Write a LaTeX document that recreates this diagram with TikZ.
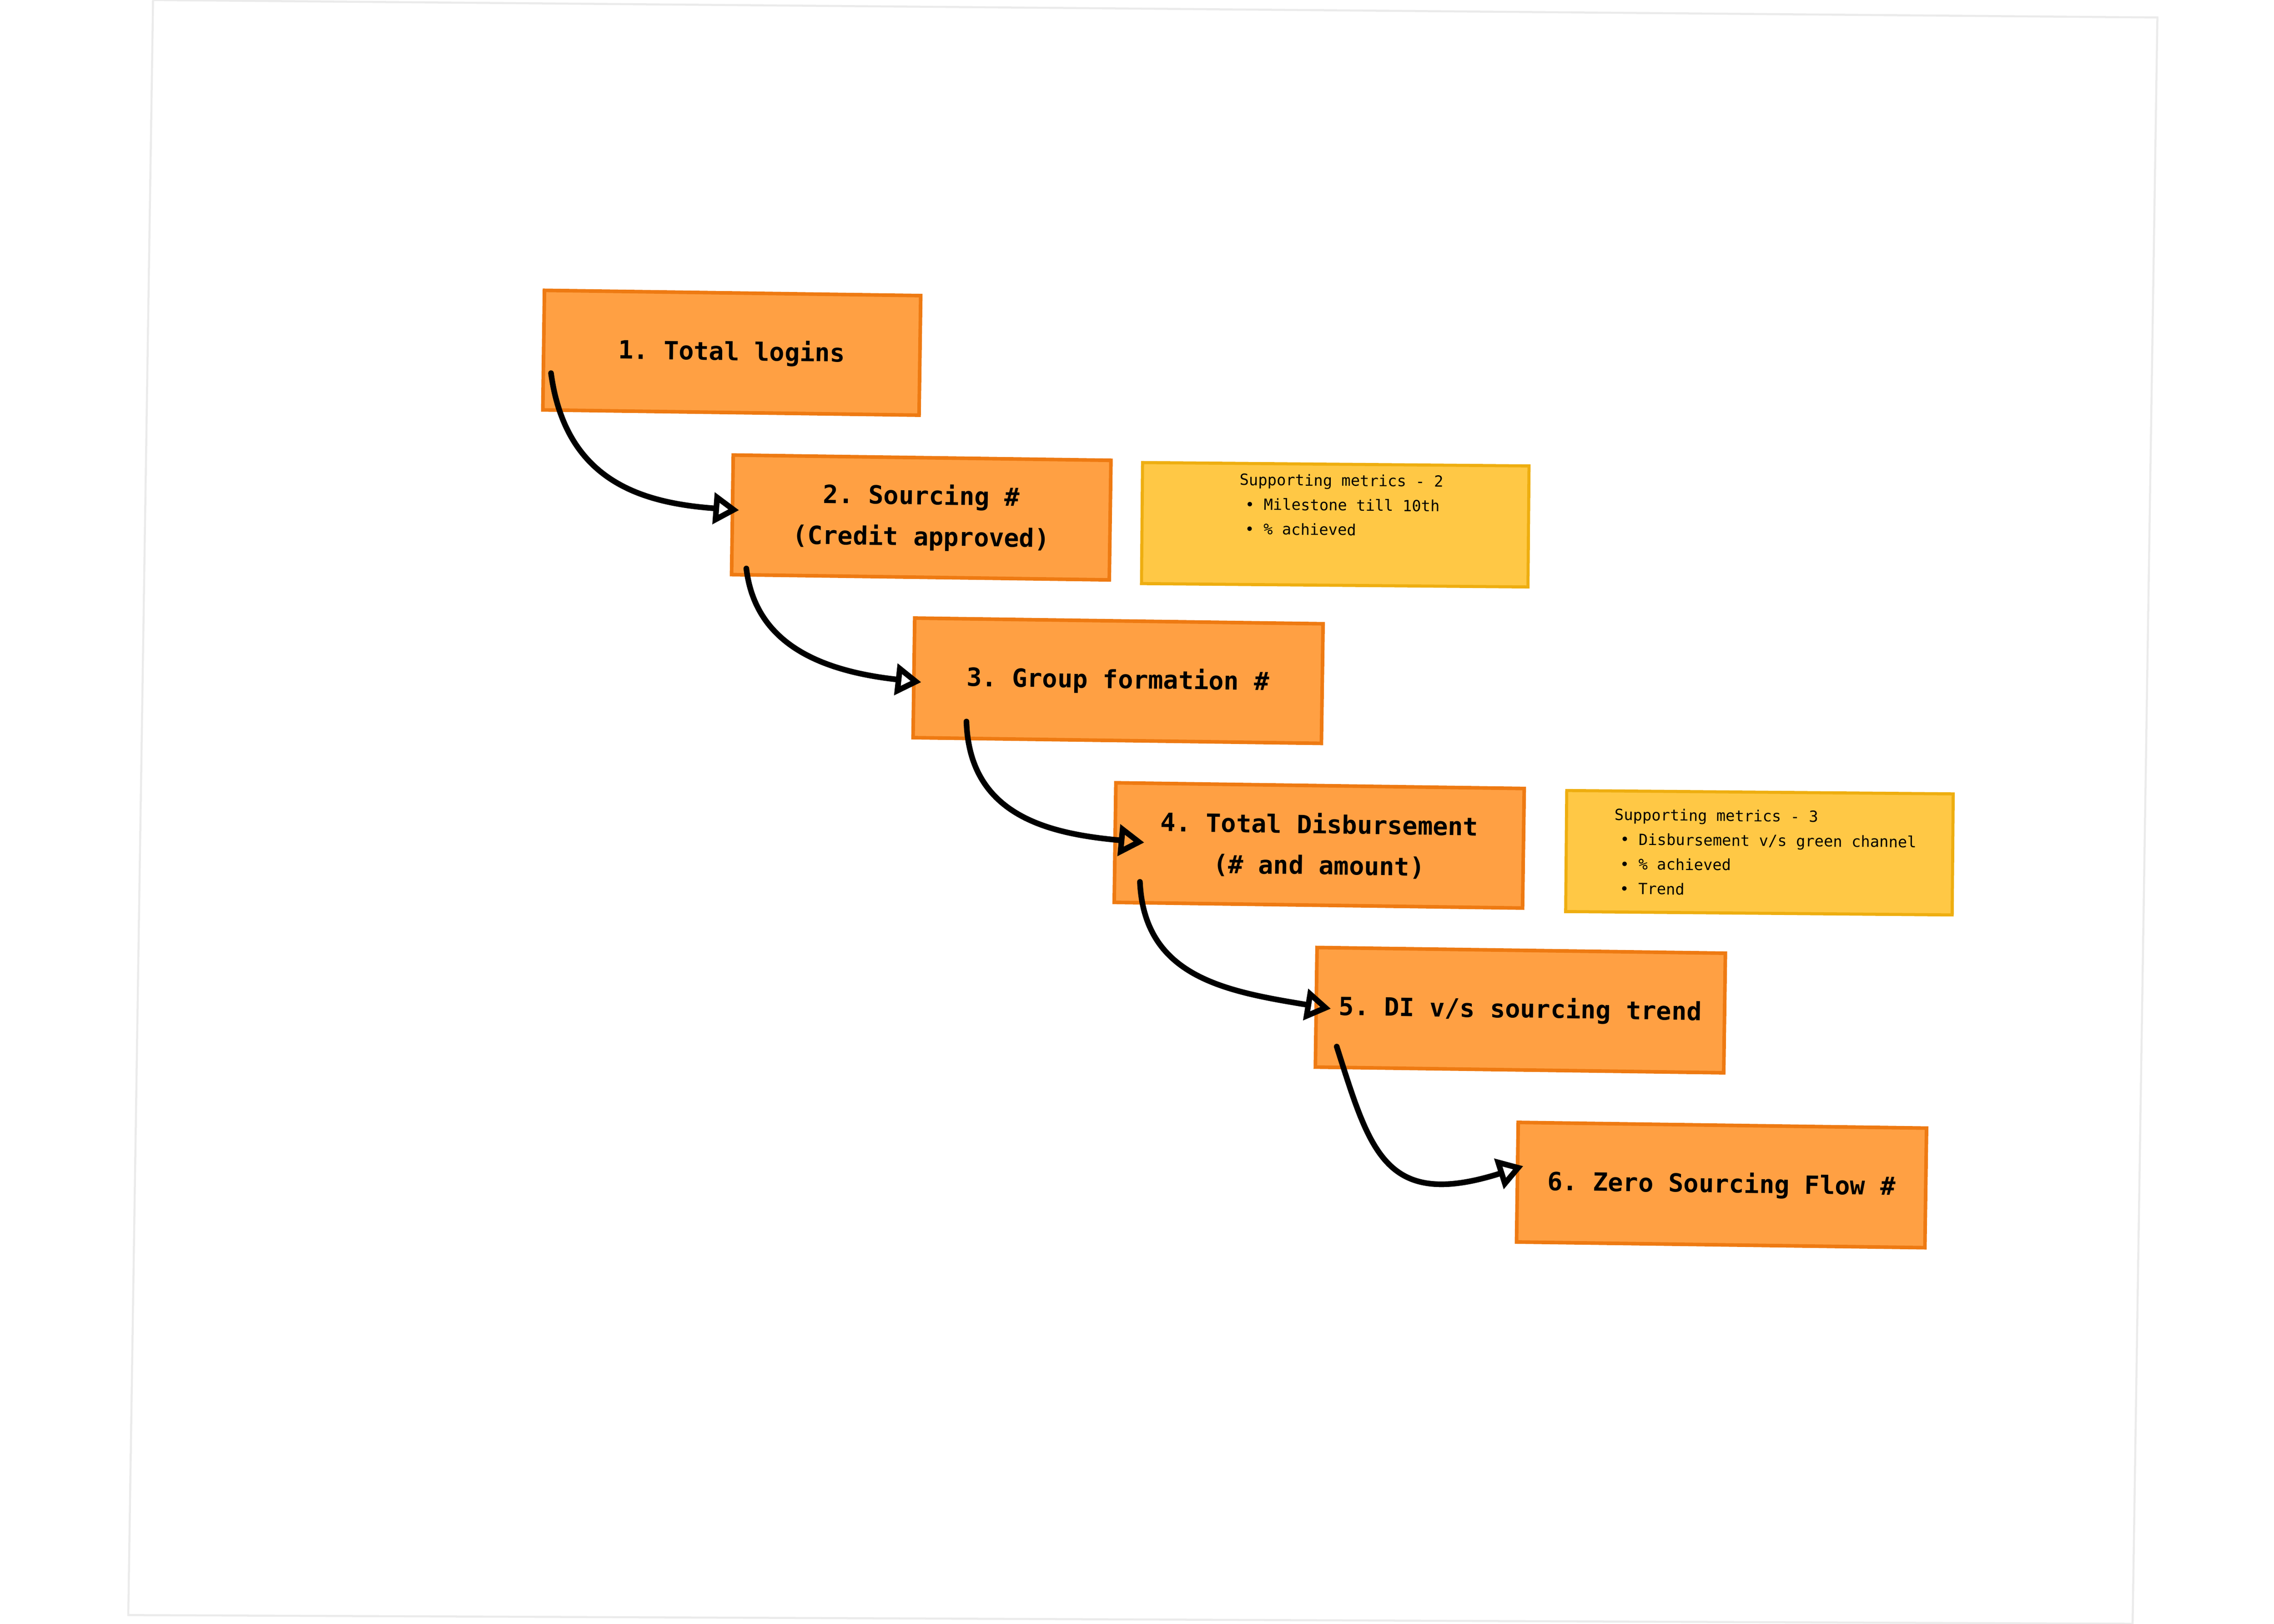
\documentclass[tikz,border=0pt]{standalone}
\usepackage{fontspec}
\setmonofont{DejaVu Sans Mono}
\usetikzlibrary{arrows.meta}
\definecolor{orfill}{HTML}{FFA043}
\definecolor{ordraw}{HTML}{EE7A12}
\definecolor{yefill}{HTML}{FFC845}
\definecolor{yedraw}{HTML}{EEAE10}
\tikzset{
 obox/.style={draw=ordraw,fill=orfill,line width=0.7pt,minimum width=2.6cm,minimum height=0.82cm,align=center,inner sep=0pt,rotate=-0.8,font=\ttfamily\bfseries\fontsize{4.9}{8}\selectfont},
 ybox/.style={draw=yedraw,fill=yefill,line width=0.6pt,minimum width=2.65cm,minimum height=0.83cm,align=left,inner sep=0pt,rotate=-0.5,font=\ttfamily\fontsize{3}{4.8}\selectfont},
 conn/.style={line width=1.1pt,line cap=round,-{Triangle[open,length=5pt,width=6pt,line width=1.1pt]}}
}
\begin{document}
\begin{tikzpicture}[x=0.01cm,y=-0.01cm]
\useasboundingbox (0,0) rectangle (1560,1114);
\draw[black!8,line width=0.4pt] (105,0) -- (1480,12) -- (1463,1114) -- (88,1108) -- cycle;
\node[obox,minimum width=2.58cm] (n1) at (502,242) {1. Total logins};
\node[obox,minimum width=2.59cm] (n2) at (632,355) {2. Sourcing \#\\(Credit approved)};
\node[ybox] (y1) at (916,360) {\hspace*{0.08cm}Supporting metrics - 2\\\hspace*{0.12cm}• Milestone till 10th\\\hspace*{0.12cm}• \% achieved\\[3pt]};
\node[obox,minimum width=2.8cm] (n3) at (767,467) {3. Group formation \#};
\node[obox,minimum width=2.8cm] (n4) at (905,580) {4. Total Disbursement\\(\# and amount)};
\node[ybox] (y2) at (1207,585) {\hspace*{0.08cm}Supporting metrics - 3\\\hspace*{0.12cm}• Disbursement v/s green channel\\\hspace*{0.12cm}• \% achieved\\\hspace*{0.12cm}• Trend};
\node[obox,minimum width=2.8cm] (n5) at (1043,693) {5. DI v/s sourcing trend};
\node[obox,minimum width=2.8cm] (n6) at (1181,813) {6. Zero Sourcing Flow \#};
\coordinate (s1) at (378,256); \coordinate (e1) at (507,350);
\coordinate (s2) at (512,390); \coordinate (e2) at (632,468);
\coordinate (s3) at (663,495); \coordinate (e3) at (785,578);
\coordinate (s4) at (782,605); \coordinate (e4) at (913,692);
\coordinate (s5) at (917,718); \coordinate (e5) at (1045,800);
\draw[conn] (s1) .. controls (388,330) and (440,345) .. (e1);
\draw[conn] (s2) .. controls (518,440) and (560,460) .. (e2);
\draw[conn] (s3) .. controls (665,560) and (720,572) .. (e3);
\draw[conn] (s4) .. controls (785,670) and (840,680) .. (e4);
\draw[conn] (s5) .. controls (940,790) and (950,830) .. (e5);
\end{tikzpicture}
\end{document}
